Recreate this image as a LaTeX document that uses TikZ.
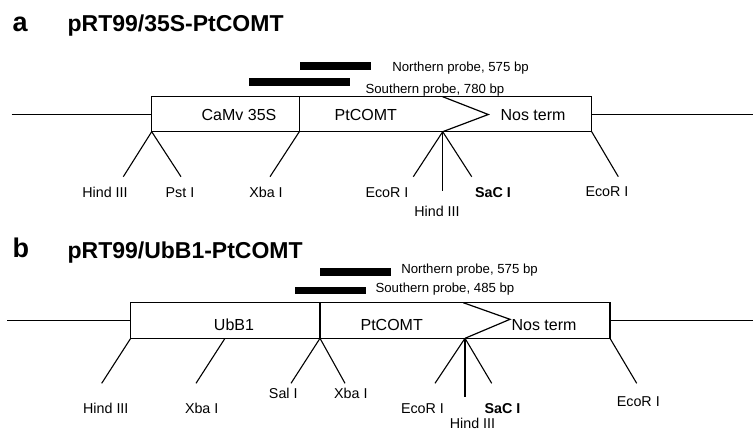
\documentclass[tikz,border=0pt]{standalone}
\usepackage{fontspec}
\setmainfont{Liberation Sans}
\begin{document}
\begin{tikzpicture}[x=1bp,y=-1bp,line width=1.2bp,line join=miter]
\tikzset{
  ttl/.style={font=\fontsize{23bp}{26bp}\selectfont\bfseries,anchor=base west,inner sep=0pt},
  panel/.style={font=\fontsize{27bp}{30bp}\selectfont\bfseries,anchor=base west,inner sep=0pt},
  boxlbl/.style={font=\fontsize{16bp}{18bp}\selectfont,anchor=base,inner sep=0pt},
  cutlbl/.style={font=\fontsize{14.3bp}{16bp}\selectfont,anchor=base,inner sep=0pt},
  cutlblb/.style={font=\fontsize{14.3bp}{16bp}\selectfont\bfseries,anchor=base,inner sep=0pt},
  probelbl/.style={font=\fontsize{13.2bp}{15bp}\selectfont,anchor=base west,inner sep=0pt},
  probebar/.style={fill=black,draw=none},
  cutline/.style={draw=black,line width=1.1bp}
}
\useasboundingbox (0,0) rectangle (753,432);
\fill[white] (0,0) rectangle (753,432);

% ================= Panel a =================
\node[panel] (pa) at (12,31.7) {a};
\node[ttl] (ta) at (67,31.7) {pRT99/35S-PtCOMT};

% probes
\fill[probebar] (300,62.3) rectangle (371,70);
\fill[probebar] (249.3,77.7) rectangle (350,85.7);
\node[probelbl] (na) at (391.7,71.4) {Northern probe, 575 bp};
\node[probelbl] (sa) at (365,93) {Southern probe, 780 bp};

% backbone and box
\coordinate (aL) at (11.7,114.5);
\coordinate (aR) at (753,114.5);
\coordinate (aBL) at (151.7,131.7);
\coordinate (aTL) at (151.7,96.7);
\coordinate (aBR) at (591.7,131.7);
\coordinate (aTR) at (591.7,96.7);
\coordinate (aD1) at (299.3,96.7);
\coordinate (aD2) at (299.3,131.7);
\coordinate (aCt) at (442.7,96.7);
\coordinate (aCb) at (442.7,131.7);
\coordinate (aCtip) at (488.3,114.5);
\draw (aL) -- (151.7,114.5);
\draw (591.7,114.5) -- (aR);
\draw (aTL) rectangle (aBR);
\draw (aD1) -- (aD2);
\draw (aCt) -- (aCtip) -- (aCb);

\node[boxlbl] (a1) at (239,120.7) {CaMv 35S};
\node[boxlbl] (a2) at (365.8,120.7) {PtCOMT};
\node[boxlbl] (a3) at (533,120.7) {Nos term};

% cut sites
\coordinate (aHe) at (123.3,176.7);
\coordinate (aPe) at (181,176.7);
\coordinate (aXe) at (270,176.7);
\coordinate (aEe) at (413.3,176.7);
\coordinate (aH2e) at (442.7,190.7);
\coordinate (aSe) at (471.7,176.7);
\coordinate (aE2e) at (618.3,176.7);
\draw[cutline] (aBL) -- (aHe);
\draw[cutline] (aBL) -- (aPe);
\draw[cutline] (aD2) -- (aXe);
\draw[cutline] (aCb) -- (aEe);
\draw[cutline] (aCb) -- (aH2e);
\draw[cutline] (aCb) -- (aSe);
\draw[cutline] (aBR) -- (aE2e);

\node[cutlbl] (la1) at (105,197.3) {Hind III};
\node[cutlbl] (la2) at (180,197.3) {Pst I};
\node[cutlbl] (la3) at (266,197.3) {Xba I};
\node[cutlbl] (la4) at (387,197.3) {EcoR I};
\node[cutlbl] (la5) at (437,216.7) {Hind III};
\node[cutlblb] (la6) at (493,197.3) {SaC I};
\node[cutlbl] (la7) at (607,196.7) {EcoR I};

% ================= Panel b =================
\node[panel] (pb) at (12,257.5) {b};
\node[ttl] (tb) at (67,258) {pRT99/UbB1-PtCOMT};

\fill[probebar] (320,268.3) rectangle (391,276);
\fill[probebar] (295,286.7) rectangle (366,294.3);
\node[probelbl] (nb) at (400.7,273.7) {Northern probe, 575 bp};
\node[probelbl] (sb) at (375,292.4) {Southern probe, 485 bp};

\coordinate (bL) at (7.3,320.5);
\coordinate (bR) at (753,320.5);
\coordinate (bBL) at (130.7,338.3);
\coordinate (bTL) at (130.7,302.7);
\coordinate (bBR) at (610,338.3);
\coordinate (bD1) at (320,302.7);
\coordinate (bD2) at (320,338.3);
\coordinate (bX) at (225,338.3);
\coordinate (bCt) at (463.3,302.7);
\coordinate (bCb) at (465,338.3);
\coordinate (bCtip) at (510,319.3);
\draw (bL) -- (130.7,320.5);
\draw (610,320.5) -- (bR);
\draw (bTL) rectangle (bBR);
\draw (bD1) -- (bD2);
\draw (bCt) -- (bCtip) -- (bCb);

\node[boxlbl] (b1) at (234,330.7) {UbB1};
\node[boxlbl] (b2) at (391.7,330.7) {PtCOMT};
\node[boxlbl] (b3) at (544,330.7) {Nos term};

\coordinate (bHe) at (101.7,383.3);
\coordinate (bXe) at (196,383.3);
\coordinate (bSae) at (291,383.3);
\coordinate (bX2e) at (345,383.3);
\coordinate (bEe) at (435,383.3);
\coordinate (bH2e) at (465,397);
\coordinate (bSe) at (491.7,383.3);
\coordinate (bE2e) at (636.7,383.3);
\draw[cutline] (bBL) -- (bHe);
\draw[cutline] (bX) -- (bXe);
\draw[cutline] (bD2) -- (bSae);
\draw[cutline] (bD2) -- (bX2e);
\draw[cutline] (bCb) -- (bEe);
\draw[cutline] (bCb) -- (bH2e);
\draw[cutline] (bCb) -- (bSe);
\draw[cutline] (bBR) -- (bE2e);

\node[cutlbl] (lb1) at (105.8,413.5) {Hind III};
\node[cutlbl] (lb2) at (201.7,413.5) {Xba I};
\node[cutlbl] (lb3) at (283.3,398.5) {Sal I};
\node[cutlbl] (lb4) at (350.8,398.5) {Xba I};
\node[cutlbl] (lb5) at (422.5,413.5) {EcoR I};
\node[cutlbl] (lb6) at (472.5,428.5) {Hind III};
\node[cutlblb] (lb7) at (502.5,413.5) {SaC I};
\node[cutlbl] (lb8) at (638.3,406.5) {EcoR I};
\end{tikzpicture}
\end{document}
